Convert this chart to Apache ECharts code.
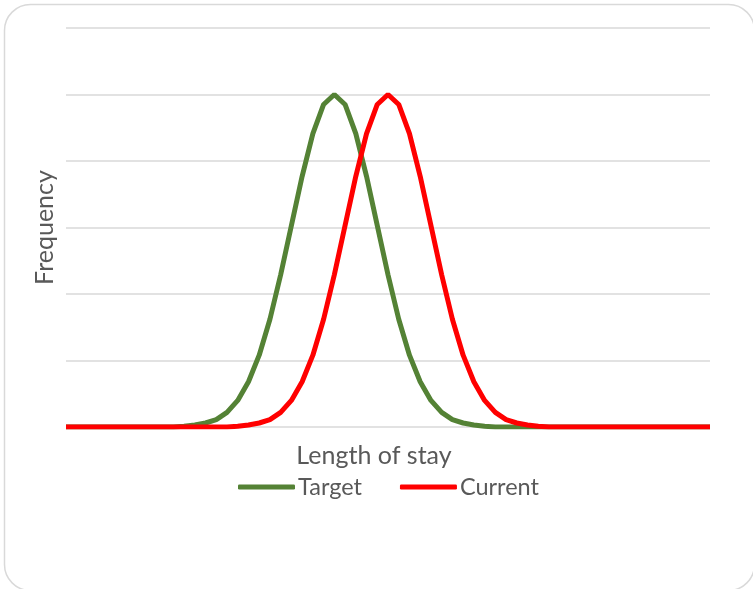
<!DOCTYPE html>
<html>
<head>
<meta charset="utf-8">
<script src="https://cdn.jsdelivr.net/npm/echarts@6/dist/echarts.min.js"></script>
<style>
  html, body { margin: 0; padding: 0; background: #ffffff; }
  #chart { width: 753px; height: 589px; }
</style>
</head>
<body>
<div id="chart"></div>
<script>
// categories: length of stay buckets (no labels shown)
const stayBuckets = Array.from({ length: 61 }, (_, i) => String(i));

// frequencies
const targetFreq = [
  0, 0, 0, 0, 0, 0, 0, 0, 0, 0,
  0, 0.01, 0.03, 0.06, 0.11, 0.22, 0.40, 0.68, 1.08, 1.62,
  2.29, 3.03, 3.77, 4.41, 4.85, 5.00, 4.85, 4.41, 3.77, 3.03,
  2.29, 1.62, 1.08, 0.68, 0.40, 0.22, 0.11, 0.06, 0.03, 0.01,
  0, 0, 0, 0, 0, 0, 0, 0, 0, 0,
  0, 0, 0, 0, 0, 0, 0, 0, 0, 0,
  0
];
const currentFreq = [
  0, 0, 0, 0, 0, 0, 0, 0, 0, 0,
  0, 0, 0, 0, 0, 0, 0.01, 0.03, 0.06, 0.11,
  0.22, 0.40, 0.68, 1.08, 1.62, 2.29, 3.03, 3.77, 4.41, 4.85,
  5.00, 4.85, 4.41, 3.77, 3.03, 2.29, 1.62, 1.08, 0.68, 0.40,
  0.22, 0.11, 0.06, 0.03, 0.01, 0, 0, 0, 0, 0,
  0, 0, 0, 0, 0, 0, 0, 0, 0, 0,
  0
];

const seriesNames = ["Target", "Current"];
const seriesColors = ["#548235", "#ff0000"];

const textFont = "Lato";
const textColor = "#595959";

const chart = echarts.init(document.getElementById("chart"));

const option = {
  animation: false,
  backgroundColor: "#ffffff",
  graphic: [
    {
      type: "rect",
      shape: { x: 4.5, y: 4.5, width: 750, height: 586, r: 26 },
      style: { fill: "none", stroke: "#d9d9d9", lineWidth: 1.5 },
      silent: true,
    },
  ],
  grid: {
    left: 66,
    right: 43,
    top: 28,
    bottom: 162,
  },
  legend: {
    top: 475,
    left: 238,
    padding: 0,
    icon: "roundRect",
    itemWidth: 57,
    itemHeight: 5,
    itemGap: 38,
    textStyle: {
      fontFamily: textFont,
      fontSize: 23.5,
      color: textColor,
      padding: [0, 0, 0, -2],
    },
    data: seriesNames,
  },
  xAxis: {
    type: "category",
    boundaryGap: false,
    data: stayBuckets,
    name: "Length of stay",
    nameLocation: "middle",
    nameGap: 16,
    nameTextStyle: {
      fontFamily: textFont,
      fontSize: 25,
      color: textColor,
      padding: [0, 28, 0, 0],
    },
    axisLine: { show: false },
    axisTick: { show: false },
    axisLabel: { show: false },
  },
  yAxis: {
    type: "value",
    min: 0,
    max: 6,
    interval: 1,
    name: "Frequency",
    nameLocation: "middle",
    nameRotate: 90,
    nameGap: 9,
    nameTextStyle: {
      fontFamily: textFont,
      fontSize: 25,
      color: textColor,
    },
    axisLine: { show: false },
    axisTick: { show: false },
    axisLabel: { show: false },
    splitLine: {
      lineStyle: { color: "#d9d9d9", width: 1.5 },
    },
  },
  series: [
    {
      name: seriesNames[0],
      type: "line",
      data: targetFreq,
      symbol: "none",
      color: seriesColors[0],
      lineStyle: { width: 5, color: seriesColors[0] },
    },
    {
      name: seriesNames[1],
      type: "line",
      data: currentFreq,
      symbol: "none",
      color: seriesColors[1],
      lineStyle: { width: 5, color: seriesColors[1] },
    },
  ],
};

chart.setOption(option);
</script>
</body>
</html>
